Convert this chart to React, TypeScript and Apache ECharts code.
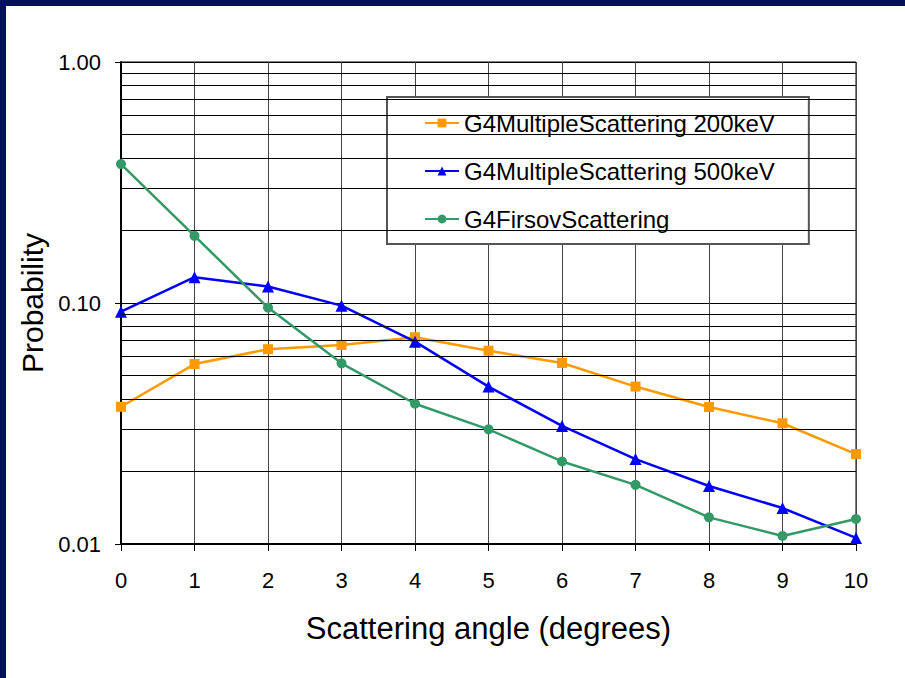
import React, { useEffect, useRef } from "react";
import * as echarts from "echarts";

const angles = [0, 1, 2, 3, 4, 5, 6, 7, 8, 9, 10];
const ms200 = [0.0371, 0.0558, 0.0643, 0.067, 0.0721, 0.0634, 0.0564, 0.045, 0.037, 0.0317, 0.0236];
const ms500 = [0.092, 0.128, 0.117, 0.0975, 0.0691, 0.045, 0.0309, 0.0225, 0.0174, 0.0141, 0.0106];
const firsov = [0.377, 0.19, 0.0957, 0.0562, 0.0382, 0.0299, 0.022, 0.0176, 0.0129, 0.0108, 0.0127];
const seriesNames = ["G4MultipleScattering 200keV", "G4MultipleScattering 500keV", "G4FirsovScattering"];
const minorGridValues = [0.02, 0.03, 0.04, 0.05, 0.06, 0.07, 0.08, 0.09, 0.2, 0.3, 0.4, 0.5, 0.6, 0.7, 0.8, 0.9];

const FONT = "'Liberation Sans', Arial, sans-serif";

export default function App() {
  const ref = useRef<HTMLDivElement>(null);
  useEffect(() => {
    if (!ref.current) return;
    const chart = echarts.init(ref.current, undefined, { renderer: "svg" });
    const pairs = (ys: number[]) => angles.map((x, i) => [x, ys[i]]);
    chart.setOption({
      animation: false,
      backgroundColor: "#ffffff",
      textStyle: { fontFamily: FONT, color: "#000" },
      grid: { left: 121, right: 49, top: 62, bottom: 134, show: true, borderColor: "#000", borderWidth: 1 },
      graphic: [
        { type: "rect", left: 0, top: 0, shape: { width: 905, height: 6 }, style: { fill: "#02115e" }, z: 100 },
        { type: "rect", left: 0, top: 0, shape: { width: 6, height: 678 }, style: { fill: "#02115e" }, z: 100 },
      ],
      legend: {
        data: seriesNames,
        orient: "vertical",
        left: 387,
        top: 97,
        padding: [14, 34, 13, 37],
        itemGap: 24,
        itemWidth: 34,
        itemHeight: 11,
        backgroundColor: "#fff",
        borderColor: "#555",
        borderWidth: 2,
        textStyle: { fontFamily: FONT, fontSize: 24, color: "#000" },
      },
      xAxis: {
        type: "value",
        min: 0,
        max: 10,
        interval: 1,
        name: "Scattering angle (degrees)",
        nameLocation: "middle",
        nameGap: 69,
        nameTextStyle: { fontFamily: FONT, fontSize: 31, color: "#000" },
        axisLine: { show: true, onZero: false, lineStyle: { color: "#000", width: 2 } },
        axisTick: { show: true, length: 7, lineStyle: { color: "#000", width: 1 } },
        axisLabel: { fontFamily: FONT, fontSize: 22, color: "#000", margin: 25 },
        splitLine: { show: true, lineStyle: { color: "#444", width: 1 } },
      },
      yAxis: {
        type: "log",
        logBase: 10,
        min: 0.01,
        max: 1,
        interval: 1,
        name: "Probability",
        nameLocation: "middle",
        nameGap: 73,
        nameTextStyle: { fontFamily: FONT, fontSize: 30, color: "#000" },
        axisLine: { show: true, lineStyle: { color: "#000", width: 2 } },
        axisTick: { show: true, length: 6, lineStyle: { color: "#000", width: 1 } },
        axisLabel: {
          fontFamily: FONT,
          fontSize: 22,
          color: "#000",
          margin: 20,
          formatter: (v: number) => v.toFixed(2),
        },
        splitLine: { show: true, lineStyle: { color: "#000", width: 1 } },
      },
      series: [
        {
          name: "minor-grid",
          type: "line",
          data: [],
          z: 1,
          silent: true,
          markLine: {
            silent: true,
            symbol: "none",
            label: { show: false },
            lineStyle: { color: "#000", width: 1, type: "solid" },
            data: minorGridValues.map((v) => ({ yAxis: v })),
          },
        },
        {
          name: seriesNames[0],
          type: "line",
          data: pairs(ms200),
          symbol: "rect",
          symbolSize: 10,
          color: "#ff9900",
          lineStyle: { color: "#ff9900", width: 2.5 },
          itemStyle: { color: "#ff9900" },
          z: 3,
        },
        {
          name: seriesNames[1],
          type: "line",
          data: pairs(ms500),
          symbol: "triangle",
          symbolSize: 12,
          color: "#0000ff",
          lineStyle: { color: "#0000ff", width: 2.5 },
          itemStyle: { color: "#0000ff" },
          z: 4,
        },
        {
          name: seriesNames[2],
          type: "line",
          data: pairs(firsov),
          symbol: "circle",
          symbolSize: 10,
          color: "#339966",
          lineStyle: { color: "#339966", width: 2.5 },
          itemStyle: { color: "#339966" },
          z: 5,
        },
      ],
    });
    return () => chart.dispose();
  }, []);
  return (
    <div
      ref={ref}
      style={{ position: "fixed", left: 0, top: 0, width: 905, height: 678, background: "#fff" }}
    />
  );
}
